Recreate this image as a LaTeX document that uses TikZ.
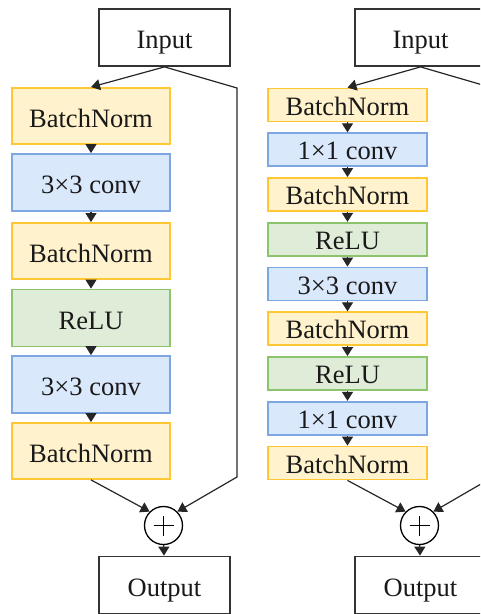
\documentclass[tikz,border=0pt]{standalone}
\usepackage{fontspec}
\setmainfont{Liberation Serif}
\usetikzlibrary{arrows.meta,positioning}
\definecolor{bnfill}{HTML}{FFF2CC}
\definecolor{bndraw}{HTML}{FFC733}
\definecolor{cvfill}{HTML}{DAE8FC}
\definecolor{cvdraw}{HTML}{7EA6E0}
\definecolor{rlfill}{HTML}{DFEDD8}
\definecolor{rldraw}{HTML}{8CC46E}
\tikzset{
  base/.style={draw, line width=1.8pt, inner sep=0pt, text height=22pt, text depth=0pt, text=black!90, font=\fontsize{26.5}{30}\selectfont},
  io/.style={base, draw=black!80, fill=white, minimum width=131pt, minimum height=57pt},
  bigbn/.style={base, draw=bndraw, fill=bnfill, minimum width=158pt, minimum height=56pt},
  bigcv/.style={base, draw=cvdraw, fill=cvfill, minimum width=158pt, minimum height=57pt},
  bigrl/.style={base, draw=rldraw, fill=rlfill, minimum width=158pt, minimum height=57pt},
  smbn/.style={base, text height=20pt, draw=bndraw, fill=bnfill, minimum width=159pt, minimum height=33pt},
  smcv/.style={base, text height=20pt, draw=cvdraw, fill=cvfill, minimum width=159pt, minimum height=33pt},
  smrl/.style={base, text height=20pt, draw=rldraw, fill=rlfill, minimum width=159pt, minimum height=33pt},
  addc/.style={circle, draw=black, line width=1.3pt, fill=white, minimum size=38pt, inner sep=0pt},
  plusl/.style={line width=1.4pt},
  arr/.style={line width=1.2pt, draw=black!85, -{Triangle[width=11pt,length=9pt]}},
}
\begin{document}
\begin{tikzpicture}[x=1pt,y=-1pt]
\useasboundingbox (0,0) rectangle (480,614);
\clip (0,0) rectangle (480,614);
% ---------- left block ----------
\node[io] (inL) at (164.5,37.5) {Input};
\node[bigbn] (l1) at (91,116) {BatchNorm};
\node[bigcv] (l2) at (91,182.5) {3×3 conv};
\node[bigbn] (l3) at (91,251) {BatchNorm};
\node[bigrl] (l4) at (91,318) {ReLU};
\node[bigcv] (l5) at (91,384.5) {3×3 conv};
\node[bigbn] (l6) at (91,451) {BatchNorm};
\node[addc] (aL) at (163.5,525.5) {};
\draw[plusl] (aL.center) ++(-10,0) -- ++(20,0);
\draw[plusl] (aL.center) ++(0,-10) -- ++(0,20);
\node[io] (outL) at (164.5,585) {Output};
\coordinate (sL1) at (237,88);
\coordinate (sL2) at (237,477);
\draw[arr] (inL.south) -- (l1.north);
\draw[arr] (l1) -- (l2);
\draw[arr] (l2) -- (l3);
\draw[arr] (l3) -- (l4);
\draw[arr] (l4) -- (l5);
\draw[arr] (l5) -- (l6);
\draw[arr] (l6.south) -- (aL.north west);
\draw[arr] (inL.south) -- (sL1) -- (sL2) -- (aL.north east);
\draw[arr] (aL) -- (outL);
% ---------- right block ----------
\node[io] (inR) at (420.5,37.5) {Input};
\node[smbn] (r1) at (347.5,105) {BatchNorm};
\node[smcv] (r2) at (347.5,149.75) {1×1 conv};
\node[smbn] (r3) at (347.5,194.5) {BatchNorm};
\node[smrl] (r4) at (347.5,239.25) {ReLU};
\node[smcv] (r5) at (347.5,284) {3×3 conv};
\node[smbn] (r6) at (347.5,328.75) {BatchNorm};
\node[smrl] (r7) at (347.5,373.5) {ReLU};
\node[smcv] (r8) at (347.5,418.25) {1×1 conv};
\node[smbn] (r9) at (347.5,463) {BatchNorm};
\node[addc] (aR) at (419.5,525.5) {};
\draw[plusl] (aR.center) ++(-10,0) -- ++(20,0);
\draw[plusl] (aR.center) ++(0,-10) -- ++(0,20);
\node[io] (outR) at (420.5,585) {Output};
\coordinate (sR1) at (493,88);
\coordinate (sR2) at (493,477);
\draw[arr] (inR.south) -- (r1.north);
\draw[arr] (r1) -- (r2);
\draw[arr] (r2) -- (r3);
\draw[arr] (r3) -- (r4);
\draw[arr] (r4) -- (r5);
\draw[arr] (r5) -- (r6);
\draw[arr] (r6) -- (r7);
\draw[arr] (r7) -- (r8);
\draw[arr] (r8) -- (r9);
\draw[arr] (r9.south) -- (aR.north west);
\draw[arr] (inR.south) -- (sR1) -- (sR2) -- (aR.north east);
\draw[arr] (aR) -- (outR);
\end{tikzpicture}
\end{document}
